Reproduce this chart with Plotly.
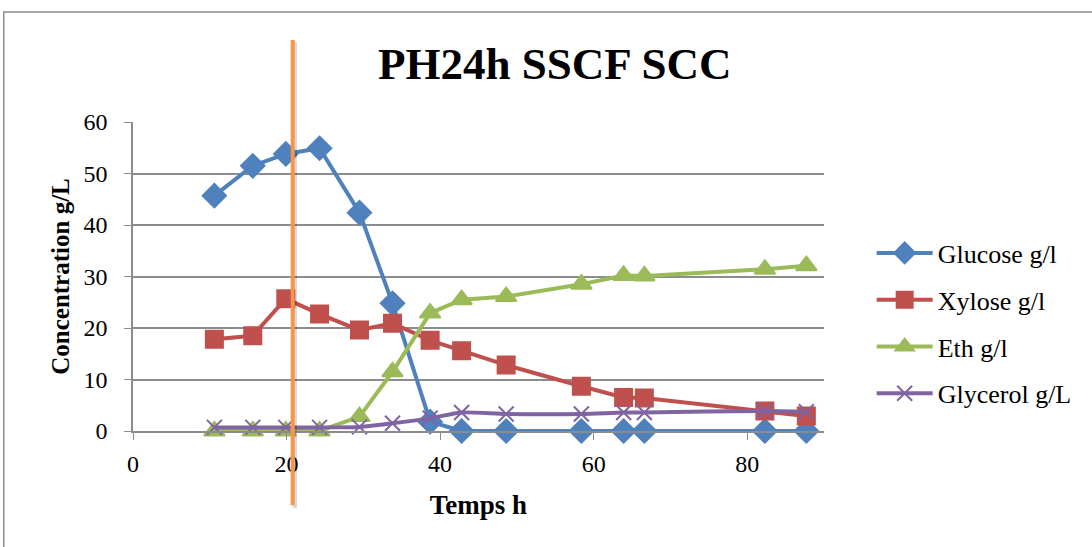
import plotly.graph_objects as go

# Data
temps = [10.6, 15.6, 19.9, 24.3, 29.5, 33.8, 38.7, 42.8, 48.6, 58.4, 63.9, 66.6, 82.3, 87.7]
glucose = [45.7, 51.5, 53.8, 54.9, 42.4, 24.8, 1.8, 0, 0, 0, 0, 0, 0, 0]
xylose = [17.8, 18.5, 25.7, 22.7, 19.6, 20.9, 17.6, 15.6, 12.8, 8.7, 6.5, 6.4, 3.9, 2.9]
eth = [0, 0, 0, 0, 2.8, 11.5, 22.9, 25.5, 26.1, 28.5, 30.2, 30.1, 31.4, 32.1]
glycerol = [0.7, 0.7, 0.7, 0.7, 0.8, 1.5, 2.5, 3.6, 3.3, 3.3, 3.6, 3.6, 3.9, 3.75]
marker_time = 20.8

FONT = "Liberation Serif"

series = [
    ("Glucose g/l", glucose, "#4F81BD", "diamond", 18, "linear"),
    ("Xylose g/l", xylose, "#C0504D", "square", 17, "linear"),
    ("Eth g/l", eth, "#9BBB59", "triangle-up", 18, "linear"),
    ("Glycerol g/L", glycerol, "#8064A2", "x-thin", 15, "spline"),
]

fig = go.Figure()
for name, vals, color, symbol, size, shape in series:
    fig.add_trace(go.Scatter(
        x=temps, y=vals, name=name, mode="lines+markers",
        line=dict(color=color, width=4, shape=shape, smoothing=0.6),
        marker=dict(symbol=symbol, size=size, color=color,
                    line=dict(color=color, width=2)),
        cliponaxis=False, legendgroup=name,
    ))

# orange vertical marker line (with a soft shadow)
fig.add_shape(type="line", xref="x", yref="paper", x0=marker_time + 0.3, x1=marker_time + 0.3,
              y0=-0.25, y1=1.26, line=dict(color="rgba(0,0,0,0.15)", width=4), layer="above")
fig.add_shape(type="line", xref="x", yref="paper", x0=marker_time, x1=marker_time,
              y0=-0.24, y1=1.265, line=dict(color="#F79646", width=4), layer="above")

# outer chart border
fig.add_shape(type="rect", xref="paper", yref="paper", x0=-0.187, x1=1.6, y0=-0.6, y1=1.356,
              line=dict(color="#8c8c8c", width=1.5), layer="below")

fig.update_layout(
    width=1092, height=547,
    margin=dict(l=133, r=268, t=122, b=116),
    paper_bgcolor="white", plot_bgcolor="white",
    font=dict(family=FONT, size=24, color="black"),
    title=dict(text="<b>PH24h SSCF SCC</b>", x=0.508, xref="container", xanchor="center",
               y=0.885, yref="container", yanchor="middle",
               font=dict(family=FONT, size=45, color="black")),
    legend=dict(x=1.069, y=0.652, xanchor="left", yanchor="top", tracegroupgap=10,
                itemwidth=56, font=dict(family=FONT, size=26), bgcolor="rgba(0,0,0,0)"),
    showlegend=True,
)
fig.update_xaxes(
    range=[0, 90], tick0=0, dtick=20, showgrid=False, zeroline=False,
    showline=True, linecolor="#8c8c8c", linewidth=1.5,
    ticks="outside", ticklen=7, tickcolor="#8c8c8c", ticklabelstandoff=3,
    title=dict(text="<b>Temps h</b>", font=dict(family=FONT, size=27), standoff=20),
)
fig.update_yaxes(
    range=[0, 60], dtick=10, showgrid=True, gridcolor="#8c8c8c", gridwidth=1.5,
    zeroline=False, showline=True, linecolor="#8c8c8c", linewidth=1.5,
    ticks="outside", ticklen=7, tickcolor="#8c8c8c", ticklabelstandoff=12,
    title=dict(text="<b>Concentration g/L</b>", font=dict(family=FONT, size=25), standoff=7),
)

# drop the default page margin so the figure sits at the window's corner
fig.write_html("out.html", config={"displayModeBar": False},
               post_script="document.body.style.margin='0';")
